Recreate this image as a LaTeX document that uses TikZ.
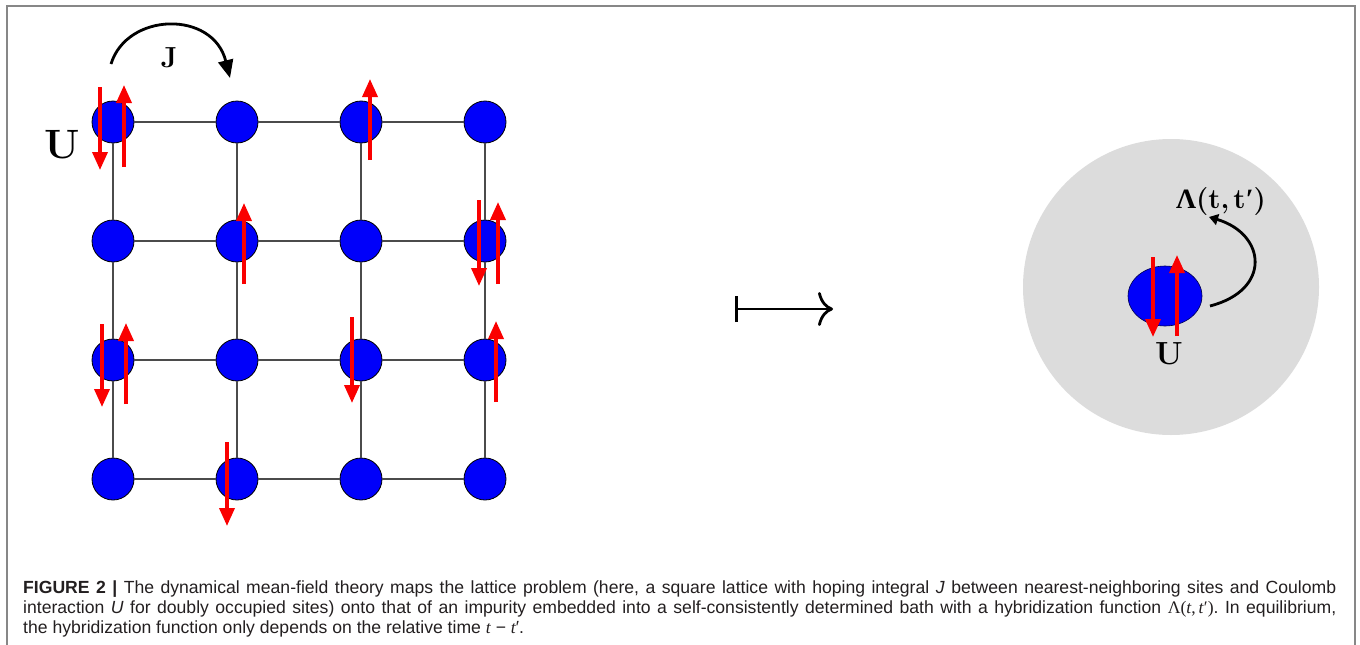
\documentclass[tikz,border=0pt]{standalone}
\usepackage{fontspec}
\newfontfamily\capfont{Liberation Sans}
\newfontfamily\grk{Liberation Serif}
\usetikzlibrary{arrows.meta,shapes.geometric}
\definecolor{siteblue}{RGB}{0,0,250}
\definecolor{spinred}{RGB}{250,0,0}
\definecolor{bathgray}{RGB}{220,220,220}
\definecolor{framegray}{RGB}{135,135,135}
\definecolor{bondgray}{RGB}{75,75,75}
\definecolor{captext}{RGB}{35,31,32}
\frenchspacing
\begin{document}
\begin{tikzpicture}[x=1pt,y=-1pt,
  site/.style={circle,draw=black,line width=0.8pt,fill=siteblue,minimum size=42pt,inner sep=0pt},
  bond/.style={draw=bondgray,line width=1.3pt},
  spin/.style={draw=spinred,line width=3.6pt,-{Triangle[length=18pt,width=15pt]}},
  hop/.style={draw=black,line width=2.8pt},
  biglabel/.style={inner sep=0pt,font=\bfseries\fontsize{#1}{#1}\selectfont},
  capline/.style={anchor=base west,inner sep=0pt,text=captext,font=\capfont\fontsize{17.6}{24}\selectfont}
]
\useasboundingbox (0,0) rectangle (1360,645);
\begin{scope}
  \clip (0,0) rectangle (1360,645);
  \draw[framegray,line width=2pt] (7,660) -- (7,6) -- (1355,6) -- (1355,660);
\end{scope}
% lattice sites
\foreach \i/\x in {0/113,1/237,2/361,3/485}
  \foreach \j/\y in {0/122,1/241,2/360,3/479}
    \node[site] (s\i\j) at (\x,\y) {};
% bonds
\foreach \a in {0,1,2,3}
  \foreach \b/\c in {0/1,1/2,2/3} {
    \draw[bond] (s\a\b) -- (s\a\c);
    \draw[bond] (s\b\a) -- (s\c\a);
  }
% spins
\draw[spin] ([shift={(-13,-35)}]s00.center) -- ([shift={(-13,48)}]s00.center);
\draw[spin] ([shift={(11,45)}]s00.center) -- ([shift={(11,-37)}]s00.center);
\draw[spin] ([shift={(9,38)}]s20.center) -- ([shift={(9,-43)}]s20.center);
\draw[spin] ([shift={(7,43)}]s11.center) -- ([shift={(7,-38)}]s11.center);
\draw[spin] ([shift={(-6,-41)}]s31.center) -- ([shift={(-6,45)}]s31.center);
\draw[spin] ([shift={(13,43)}]s31.center) -- ([shift={(13,-39)}]s31.center);
\draw[spin] ([shift={(-11,-36)}]s02.center) -- ([shift={(-11,47)}]s02.center);
\draw[spin] ([shift={(13,44)}]s02.center) -- ([shift={(13,-37)}]s02.center);
\draw[spin] ([shift={(-9,-43)}]s22.center) -- ([shift={(-9,43)}]s22.center);
\draw[spin] ([shift={(11,42)}]s32.center) -- ([shift={(11,-39)}]s32.center);
\draw[spin] ([shift={(-10,-37)}]s13.center) -- ([shift={(-10,47)}]s13.center);
% hopping J
\coordinate (jstart) at (111,64);
\coordinate (jend) at (230,78);
\draw[hop,-{Triangle[length=18pt,width=15pt]}] (jstart) .. controls (127,12) and (213,10) .. (jend);
\node[biglabel=29] (Jlab) at (169,58) {J};
\node[biglabel=41] (Ulab) at (62,145) {U};
% maps-to arrow
\coordinate (m1) at (735,309);
\coordinate (m2) at (833,309);
\draw[line width=2.8pt,{Bar[width=26pt]}-{Computer Modern Rightarrow[length=15pt,width=34pt]}] (m1) -- (m2);
% bath and impurity
\node[circle,fill=bathgray,minimum size=296pt,inner sep=0pt] (bath) at (1171,287) {};
\node[ellipse,draw=black!70!blue,line width=0.6pt,fill=siteblue,minimum width=74pt,minimum height=60pt,inner sep=0pt] (imp) at (1165,296) {};
\draw[spin] ([shift={(-12,-39)}]imp.center) -- ([shift={(-12,41)}]imp.center);
\draw[spin] ([shift={(12,40)}]imp.center) -- ([shift={(12,-41)}]imp.center);
\node[biglabel=32] (Uimp) at (1169,354) {U};
\node[biglabel=28] (Lam) at (1221,202) {{\grk Λ}(t,\kern4pt t{\grk ′})};
\coordinate (hstart) at (1210,306);
\coordinate (hend) at (1209,217);
\draw[hop,-{Triangle[length=9pt,width=11pt]}] (hstart) .. controls (1272,290) and (1266,234) .. (hend);
% caption
\node[capline] (cap1) at (23,593) {\makebox[1313pt][s]{\textbf{FIGURE 2 |} The dynamical mean-field theory maps the lattice problem (here, a square lattice with hoping integral \textit{J} between nearest-neighboring sites and Coulomb}};
\node[capline] (cap2) at (23,613) {\makebox[1313pt][s]{interaction \textit{U} for doubly occupied sites) onto that of an impurity embedded into a self-consistently determined bath with a hybridization function {\grk Λ(\textit{t},\kern3pt \textit{t}′)}. In equilibrium,}};
\node[capline] (cap3) at (23,633) {the hybridization function only depends on the relative time {\grk\itshape t} − {\grk\itshape t}′.};
\end{tikzpicture}
\end{document}
